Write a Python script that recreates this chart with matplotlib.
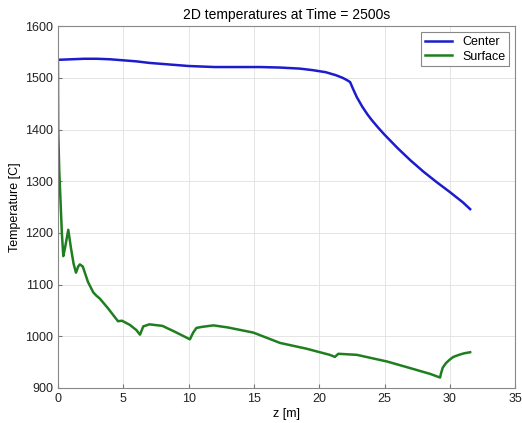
import numpy as np
import matplotlib
matplotlib.use('Agg')
import matplotlib.pyplot as plt

plt.rcParams['font.family'] = ['Liberation Sans', 'DejaVu Sans']

# Center line (z [m], T [C])
z_center = [0.0, 1.0, 2.0, 3.0, 4.0, 5.0, 6.0, 7.0, 8.0, 9.0, 10.0, 11.0, 12.0,
            13.0, 14.0, 15.5, 17.0, 18.5, 19.5, 20.5, 21.3, 21.8, 22.1, 22.36,
            22.6, 22.87, 23.3, 23.7, 24.0, 24.5, 25.0, 26.0, 27.0, 28.0, 29.0,
            30.0, 31.0, 31.55]
t_center = [1535, 1536, 1537, 1537, 1536, 1534, 1532, 1529, 1527, 1525, 1523, 1522, 1521,
            1521, 1521, 1521, 1520, 1518, 1515, 1511, 1505, 1500, 1496, 1492,
            1478, 1463, 1444, 1429, 1419, 1404, 1390, 1364, 1340, 1318, 1298,
            1279, 1259, 1246]

# Surface line
z_surface = [0.0, 0.02, 0.1, 0.2, 0.3, 0.41, 0.55, 0.79, 1.0, 1.2, 1.38, 1.55, 1.68,
             1.9, 2.3, 2.7, 2.96, 3.2, 3.8, 4.6, 4.9, 5.5, 6.0, 6.28, 6.53, 7.0,
             8.0, 9.0, 10.1, 10.35, 10.6, 11.0, 11.9, 13.0, 14.96, 17.0, 19.0,
             20.8, 21.2, 21.46, 22.87, 25.2, 27.0, 28.5, 29.25, 29.32, 29.45,
             29.7, 30.0, 30.27, 30.7, 31.1, 31.55]
t_surface = [1535, 1400, 1320, 1260, 1200, 1155, 1172, 1206, 1170, 1140, 1123, 1135, 1139,
             1135, 1105, 1085, 1078, 1073, 1055, 1029, 1030, 1022, 1012, 1003, 1019, 1023,
             1020, 1008, 994, 1007, 1016, 1018, 1021, 1017, 1007, 987, 976,
             964, 960, 966, 964, 951, 938, 927, 920, 928, 939,
             948, 955, 960, 964, 967, 969]

fig = plt.figure(figsize=(5.22, 4.23), dpi=100)
ax = fig.add_axes([0.111, 0.083, 0.876, 0.855])

ax.plot(z_center, t_center, color='#1c1ccc', lw=1.8, label='Center')
ax.plot(z_surface, t_surface, color='#1f7f1f', lw=1.8, label='Surface')

ax.set_xlim(0, 35)
ax.set_ylim(900, 1600)
ax.set_xticks(np.arange(0, 36, 5))
ax.set_yticks(np.arange(900, 1601, 100))
ax.grid(True, color='#e0e0e0', lw=0.6)
ax.tick_params(direction='in', labelsize=9, length=3, color='#777777', labelcolor='#222222')
for s in ax.spines.values():
    s.set_color('#888888')
    s.set_linewidth(0.8)

ax.set_xlabel('z [m]', fontsize=9, labelpad=2)
ax.set_ylabel('Temperature [C]', fontsize=9, labelpad=3)
ax.set_title('2D temperatures at Time = 2500s', fontsize=10, pad=5)

leg = ax.legend(loc='upper right', fontsize=9, fancybox=False, framealpha=1,
                edgecolor='#888888', handlelength=2.2, borderpad=0.3, labelspacing=0.2)
leg.get_frame().set_linewidth(0.8)

fig.savefig('out.png', dpi=100)
